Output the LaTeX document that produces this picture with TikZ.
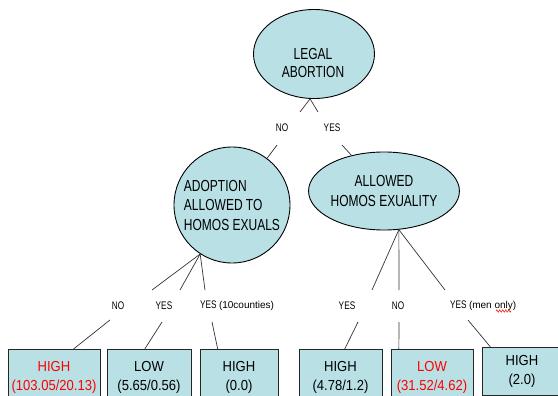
\documentclass[tikz,border=0pt]{standalone}
\usepackage{fontspec}
\newfontfamily\nf{Liberation Sans}[FakeStretch=0.75]
\newfontfamily\nfb{Liberation Sans}[FakeStretch=0.9]
\newfontfamily\nfs{Liberation Sans}
\newcommand\notefont{\nfs\fontsize{10}{12}\selectfont}
\usetikzlibrary{shapes.geometric,calc,decorations.pathmorphing}
\definecolor{nodefill}{RGB}{185,224,228}
\definecolor{hot}{RGB}{255,0,0}
\begin{document}
\begin{tikzpicture}[x=1pt,y=-1pt,
  bubble/.style={draw=black,line width=0.9pt,fill=nodefill,ellipse,inner sep=0pt,align=center,
    font=\nf\fontsize{16}{19.5}\selectfont},
  bubbletext/.style={inner sep=0pt,align=center,font=\nf\fontsize{16}{18}\selectfont},
  leaf/.style={draw=black!85,line width=0.9pt,fill=nodefill,anchor=north,inner sep=0pt,
    minimum height=56pt,align=center,font=\nfb\fontsize{14.5}{19}\selectfont},
  conn/.style={draw=black!80,line width=0.7pt},
  tag/.style={font=\nf\fontsize{11}{12}\selectfont,inner sep=0pt}]
\useasboundingbox (0,0) rectangle (558,396);
\clip (0,0) rectangle (558,396);

% decision nodes
\node[bubble,minimum width=121pt,minimum height=89pt] (root) at (314,54) {};
\node[bubbletext] (rootText) at (313,63) {LEGAL\\ABORTION};
\node[bubble,circle,minimum size=116pt,align=left] (adopt) at (232,205) {ADOPTION\\ALLOWED TO\\HOMOS EXUALS};
\node[bubble,minimum width=124pt,minimum height=78pt] (homo) at (384,191) {ALLOWED\\HOMOS EXUALITY};

% outcome boxes
\node[leaf,minimum width=92pt,text=hot] (l1) at (54,349) {HIGH\\(103.05/20.13)};
\node[leaf,minimum width=84pt] (l2) at (149,349) {LOW\\(5.65/0.56)};
\node[leaf,minimum width=78pt] (l3) at (239,349) {HIGH\\(0.0)};
\node[leaf,minimum width=83pt] (l4) at (340.5,349) {HIGH\\(4.78/1.2)};
\node[leaf,minimum width=82pt,text=hot] (l5) at (432,349) {LOW\\(31.52/4.62)};
\node[leaf,minimum width=80pt,minimum height=48pt] (l6) at (522,347) {HIGH\\(2.0)};

% branch labels
\node[tag] (tNo) at (282,128) {NO};
\node[tag] (tYes) at (332,128) {YES};
\node[tag] (aNo) at (118,306) {NO};
\node[tag] (aYes) at (164,306) {YES};
\node[tag,anchor=west] (aYes2) at (200,306) {YES {\notefont(10counties)}};
\node[tag] (hYes) at (347,306) {YES};
\node[tag] (hNo) at (398,306) {NO};
\node[tag,anchor=west] (hYes2) at (450,306) {YES {\notefont(men only)}};
\draw[hot,line width=0.5pt,decorate,decoration={zigzag,amplitude=1.2pt,segment length=3pt}]
  (496,311) -- (511,311);

% gap ends of the connectors
\coordinate (g1a) at (300,112); \coordinate (g1b) at (277,145);
\coordinate (g2a) at (318,112); \coordinate (g2b) at (342,145);
\coordinate (g3a) at (152,290); \coordinate (g3b) at (110,320);
\coordinate (g4a) at (180,290); \coordinate (g4b) at (162,322);
\coordinate (g5a) at (205,290); \coordinate (g5b) at (212,322);
\coordinate (g6a) at (372,290); \coordinate (g6b) at (358,322);
\coordinate (g7a) at (399,290); \coordinate (g7b) at (399,322);
\coordinate (g8a) at (445,290); \coordinate (g8b) at (468,320);

% connectors
\draw[conn] (root.-95) -- (g1a);
\draw[conn] (g1b) -- (adopt);
\draw[conn] (root.-95) -- (g2a);
\draw[conn] (g2b) -- (homo);

\draw[conn] (adopt.237) -- (g3a);
\draw[conn] (g3b) -- ($(l1.north west)!0.71!(l1.north east)$);
\draw[conn] (adopt.237) -- (g4a);
\draw[conn] (g4b) -- ($(l2.north west)!0.45!(l2.north east)$);
\draw[conn] (adopt.237) -- (g5a);
\draw[conn] (g5b) -- ($(l3.north west)!0.23!(l3.north east)$);

\draw[conn] (homo.-69) -- (g6a);
\draw[conn] (g6b) -- ($(l4.north west)!0.55!(l4.north east)$);
\draw[conn] (homo.-69) -- (g7a);
\draw[conn] (g7b) -- ($(l5.north west)!0.10!(l5.north east)$);
\draw[conn] (homo.-69) -- (g8a);
\draw[conn] (g8b) -- ($(l6.north west)!0.11!(l6.north east)$);
\end{tikzpicture}
\end{document}
